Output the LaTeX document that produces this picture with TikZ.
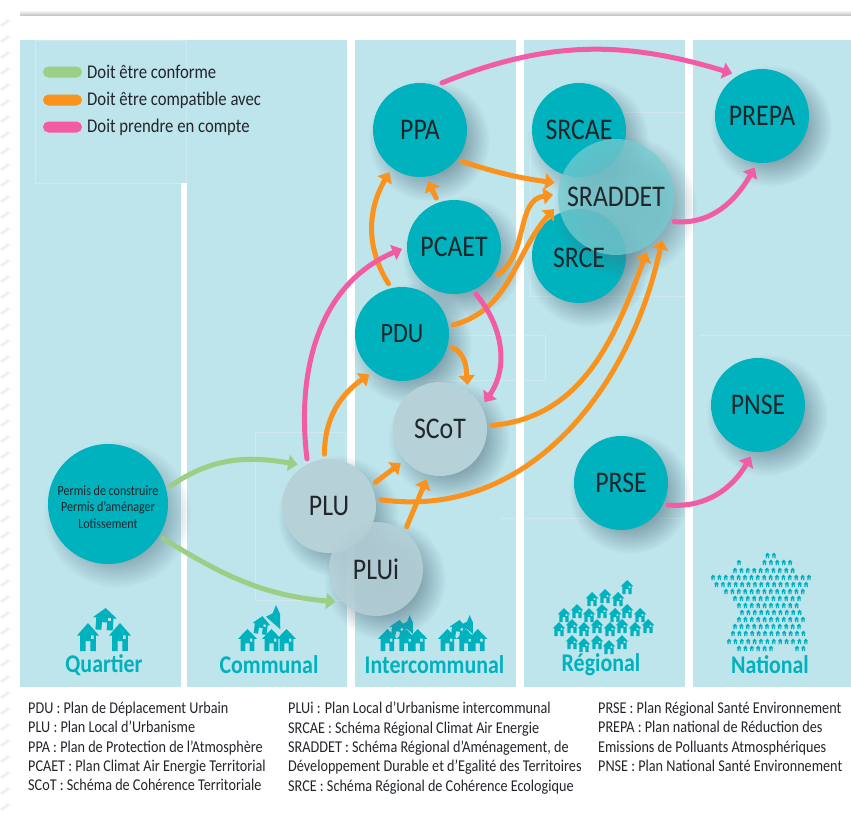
\documentclass[tikz,border=0pt]{standalone}
\usepackage{fontspec}
\setmainfont[FakeStretch=0.86]{Carlito}
\usetikzlibrary{arrows.meta,calc,fadings}

\definecolor{bgblue}{HTML}{BEE4EC}
\definecolor{tealc}{HTML}{00B2BE}
\definecolor{greyc}{HTML}{B7D1D8}
\definecolor{glassc}{HTML}{75CCD3}
\definecolor{inkc}{HTML}{22262B}
\definecolor{greenc}{HTML}{9BCF85}
\definecolor{orangec}{HTML}{F9931E}
\definecolor{pinkc}{HTML}{F25CA5}
\definecolor{shadowc}{HTML}{4A6A78}

\pgfdeclareradialshading{softdiscshade}{\pgfpointorigin}{color(0bp)=(pgftransparent!0); color(14bp)=(pgftransparent!15); color(25bp)=(pgftransparent!100); color(50bp)=(pgftransparent!100)}
\pgfdeclarefading{softdisc}{\pgfuseshading{softdiscshade}}

\newcommand{\softshadow}[3]{\fill[shadowc, opacity=0.6, path fading=softdisc] (#1+9,#2-10) circle (#3+14);}

\tikzset{
  house/.pic={\fill[tealc, even odd rule] (0,2) -- (1,1.1) -- (0.72,1.1) -- (0.72,0) -- (0.22,0) -- (0.22,0.7) -- (-0.22,0.7) -- (-0.22,0) -- (-0.72,0) -- (-0.72,1.1) -- (-1,1.1) -- cycle (0.25,0.85) rectangle (0.52,1.12);},
  village/.pic={
    \pic[xscale=9.5,yscale=11] at (-20,0) {house};
    \pic[xscale=9.5,yscale=11] at (4,0) {house};
    \pic[xscale=9.5,yscale=11] at (19,0) {house};
    \pic[xscale=9,yscale=9,rotate=-8] at (-7.5,17) {house};
    \fill[tealc] (8.5,46) -- (12.5,37) -- (12.8,21.7) -- (-1.5,34.3) -- (5.2,37.7) -- cycle;
  }
}

\begin{document}
\begin{tikzpicture}[x=1pt,y=1pt]
\tikzstyle{v}=[circle, inner sep=0pt, outer sep=5pt, align=center, text=inkc, font=\fontsize{30}{32}\selectfont];
\tikzstyle{t}=[v, fill=tealc, minimum size=94pt];
\tikzstyle{g}=[v, fill=greyc, minimum size=94pt];
\tikzstyle{lab}=[text=tealc, font=\fontsize{25.5}{27}\selectfont\bfseries];
\tikzstyle{pill}=[rounded corners=5.5pt, minimum width=39pt, minimum height=11pt, inner sep=0pt];
\tikzstyle{legtext}=[anchor=west, inner sep=0pt, text=inkc, font=\fontsize{19.4}{21}\selectfont];
\tikzstyle{note}=[anchor=north west, inner sep=0pt, align=left, text=inkc, font=\fontsize{16.5}{19.3}\selectfont];
\tikzstyle{e}=[-{Triangle[length=9.5pt,width=16pt]}, line width=5pt, line cap=round];
\tikzstyle{faint}=[white, opacity=0.25, line width=0.5pt];

\useasboundingbox (0,0) rectangle (851,-819);

% page edge
\shade[top color=white, bottom color=black!22] (20,-10) rectangle (851,-15);
\foreach \y in {20,36,...,810} \draw[black!6, line width=3pt] (1,-\y-6) -- (9,-\y);

% columns
\fill[bgblue] (20,-40) rectangle (187,-183);
\fill[bgblue] (20,-183) rectangle (181,-687);
\fill[bgblue] (187,-40) rectangle (347,-687);
\fill[bgblue] (355,-40) rectangle (516,-687);
\fill[bgblue] (524,-40) rectangle (685,-687);
\fill[bgblue] (693,-40) rectangle (851,-687);
\draw[faint] (35,-40) rectangle (186,-183);
\draw[faint] (255,-432) rectangle (345,-600);
\draw[faint] (372,-380) rectangle (545,-335);
\draw[faint] (530,-112) rectangle (692,-296);
\draw[faint] (500,-518) -- (685,-518);
\draw[faint] (700,-335) -- (851,-335);

% legend
\node[pill, fill=greenc] (leg1) at (62.5,-72) {};
\node[pill, fill=orangec] (leg2) at (62.5,-100) {};
\node[pill, fill=pinkc] (leg3) at (62.5,-127) {};
\node[legtext] (leg1t) at (87,-72) {Doit être conforme};
\node[legtext] (leg2t) at (87,-100) {Doit être compatible avec};
\node[legtext] (leg3t) at (87,-127) {Doit prendre en compte};

% icons
\pic[xscale=11,yscale=14] at (88,-651) {house};
\pic[xscale=11,yscale=14] at (120,-651) {house};
\pic[xscale=12,yscale=11,rotate=-4] at (104,-630) {house};
\pic at (267.5,-651) {village};
\pic[scale=0.78] at (403,-651) {village};
\pic[scale=0.78] at (463,-651) {village};
\foreach \x/\y in {627/587,592/599,605/596,618/599,564/615,577/611,589/615,602/611,615/615,627/611,640/615,559/629,572/626,584/629,597/626,610/629,622/626,635/629,648/626,572/642,584/645,597/642,609/647,622/642}
  \pic[xscale=6.3,yscale=7] at (\x,-\y-7) {house};
\foreach \y/\xa/\n in {555/767.5/1,562/739/0,562/764.5/4,570/735/9,577/713/15,584/716.5/14,591/726/12,598/735/10,605/739/9,612/742/9,619/739/10,626/735/10,633/733/11,641/729/12,648/739/5,648/797/1}
  \foreach \i in {0,...,\n}
    \pic[xscale=2.3,yscale=2.7] at (\xa+6.4*\i,-\y-3) {house};

\node[lab] (quartier) at (104,-665) {Quartier};
\node[lab] (communal) at (269,-665) {Communal};
\node[lab] (intercommunal) at (434.5,-665) {Intercommunal};
\node[lab] (regional) at (601,-665) {Régional};
\node[lab] (national) at (770,-665) {National};

% bubbles
\softshadow{420}{-130}{47}
\node[t] (PPA) at (420,-130) {PPA};
\softshadow{579}{-130}{47}
\node[t] (SRCAE) at (579,-130) {};
\softshadow{579}{-256}{47}
\node[t] (SRCE) at (579,-256) {};
\softshadow{616}{-197}{58}
\node[v, fill=glassc, fill opacity=0.75, text opacity=1, minimum size=116pt] (SRADDET) at (616,-197) {SRADDET};
\node[text=inkc, font=\fontsize{30}{32}\selectfont] (SRCAEt) at (SRCAE) {SRCAE};
\node[text=inkc, font=\fontsize{30}{32}\selectfont] (SRCEt) at (579,-258) {SRCE};
\softshadow{762}{-116}{47}
\node[t] (PREPA) at (762,-116) {PREPA};
\softshadow{454}{-247}{47}
\node[t] (PCAET) at (454,-247) {PCAET};
\softshadow{402}{-334}{47}
\node[t, font=\fontsize{28}{30}\selectfont] (PDU) at (402,-334) {PDU};
\softshadow{440}{-429}{47}
\node[g] (SCoT) at (440,-429) {SCoT};
\softshadow{758}{-405}{47}
\node[t] (PNSE) at (758,-405) {PNSE};
\softshadow{621}{-483}{47}
\node[t] (PRSE) at (621,-483) {PRSE};
\softshadow{108}{-504}{60}
\node[t, minimum size=120pt] (permis) at (108,-504) {};
\node[align=center, text=inkc, font=\fontsize{14}{16.5}\selectfont] (permist) at (108,-507) {Permis de construire\\Permis d’aménager\\Lotissement};
\softshadow{329}{-506}{47}
\node[g] (PLU) at (329,-506) {PLU};
\softshadow{376}{-569}{47}
\node[g, fill opacity=0.85, text opacity=1] (PLUi) at (376,-569) {PLUi};

% arrows
\draw[e, greenc] (permis.16) to[out=35, in=170] (PLU.127);
\draw[e, greenc] (permis.-32) to[out=-32, in=175] (PLUi.219);

\draw[e, orangec] (PPA.-37) to[out=-18, in=172] (SRADDET.167);
\draw[e, orangec] (PCAET.110) to (PPA.-81);
\draw[e, orangec] (PDU.105) to[out=122, in=240] (PPA.234);
\draw[e, orangec] (PCAET.-32) to[out=35, in=188] (SRADDET.178);
\draw[e, orangec] (PDU.10) to[out=15, in=228] (SRADDET.191);
\draw[e, orangec] (PLU.95) to[out=90, in=215] (PDU.231);
\draw[e, orangec] (PDU.-15) to[out=-25, in=95] (SCoT.58);
\draw[e, orangec] (SCoT.4) to[out=5, in=250] (SRADDET.-61);
\draw[e, orangec] (PLU.7) to[out=-8, in=258] (SRADDET.-43);
\draw[e, orangec] (PLU.27) to (SCoT.221);
\draw[e, orangec] (PLUi.54) to (SCoT.255);

\draw[e, pinkc] (PPA.65) to[out=22, in=163] (PREPA.125);
\draw[e, pinkc] (PLU.115) to[out=97, in=203] (PCAET.182);
\draw[e, pinkc] (PCAET.-65) to[out=-50, in=55] (SCoT.31);
\draw[e, pinkc] (SRADDET.-23) to[out=-5, in=240] (PREPA.262);
\draw[e, pinkc] (PRSE.-25) to[out=-5, in=240] (PNSE.262);

% glossary
\node[note] (col1) at (28,-702) {PDU : Plan de Déplacement Urbain\\PLU : Plan Local d’Urbanisme\\PPA : Plan de Protection de l’Atmosphère\\PCAET : Plan Climat Air Energie Territorial\\SCoT : Schéma de Cohérence Territoriale};
\node[note] (col2) at (288,-702) {PLUi : Plan Local d’Urbanisme intercommunal\\SRCAE : Schéma Régional Climat Air Energie\\SRADDET : Schéma Régional d’Aménagement, de\\Développement Durable et d’Egalité des Territoires\\SRCE : Schéma Régional de Cohérence Ecologique};
\node[note] (col3) at (598,-702) {PRSE : Plan Régional Santé Environnement\\PREPA : Plan national de Réduction des\\Emissions de Polluants Atmosphériques\\PNSE : Plan National Santé Environnement};
\end{tikzpicture}
\end{document}
